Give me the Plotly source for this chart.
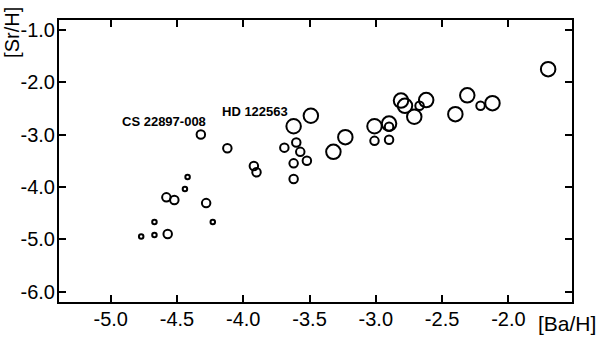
import plotly.graph_objects as go

# [Ba/H], [Sr/H], grouped by symbol size
small_ba = [-4.42, -4.44, -4.23, -4.67, -4.77, -4.67]
small_sr = [-3.81, -4.04, -4.67, -4.67, -4.95, -4.92]

medium_ba = [-4.32, -4.12, -3.92, -3.90, -4.58, -4.52, -4.28, -4.57, -3.69, -3.60,
             -3.57, -3.52, -3.62, -3.62, -3.01, -2.90, -2.90, -2.67, -2.21]
medium_sr = [-3.00, -3.26, -3.60, -3.72, -4.20, -4.25, -4.31, -4.90, -3.25, -3.15,
             -3.33, -3.50, -3.55, -3.85, -3.12, -2.85, -3.10, -2.45, -2.45]

large_ba = [-3.62, -3.49, -3.32, -3.23, -3.01, -2.90, -2.81, -2.78, -2.71, -2.62,
            -2.40, -2.31, -2.12, -1.70]
large_sr = [-2.84, -2.64, -3.33, -3.05, -2.84, -2.79, -2.35, -2.45, -2.66, -2.34,
            -2.61, -2.25, -2.40, -1.75]

star_names = ['CS 22897-008', 'HD 122563']
star_label_x = [-4.60, -3.91]
star_label_y = [-2.75, -2.56]

x_ticks = [-5.0, -4.5, -4.0, -3.5, -3.0, -2.5, -2.0]
y_ticks = [-1.0, -2.0, -3.0, -4.0, -5.0, -6.0]

FONT = 'Liberation Sans, Arial, Helvetica, sans-serif'

fig = go.Figure()
for xs, ys, sz in [(small_ba, small_sr, 4.5), (medium_ba, medium_sr, 8.5), (large_ba, large_sr, 14.5)]:
    fig.add_trace(go.Scatter(
        x=xs, y=ys, mode='markers',
        marker=dict(symbol='circle-open', size=sz, color='black',
                    line=dict(color='black', width=2)),
        hoverinfo='x+y'))

axis_common = dict(showline=True, linecolor='black', linewidth=2, mirror='ticks',
                   ticks='inside', ticklen=7, tickwidth=2, tickcolor='black',
                   showgrid=False, zeroline=False, automargin=False,
                   tickfont=dict(family=FONT, size=20, color='black'))

fig.update_xaxes(range=[-5.39, -1.52], tickvals=x_ticks, ticklabelstandoff=-2,
                 ticktext=['%.1f' % v for v in x_ticks], **axis_common)
fig.update_yaxes(range=[-6.2, -0.81], tickvals=y_ticks, ticklabelstandoff=-2,
                 ticktext=['%.1f' % v for v in y_ticks], **axis_common)

annotations = [dict(x=x, y=y, xref='x', yref='y', text='<b>%s</b>' % t, showarrow=False,
                    font=dict(family=FONT, size=13, color='black'))
               for t, x, y in zip(star_names, star_label_x, star_label_y)]
annotations += [
    dict(x=-0.092, y=0.957, xref='paper', yref='paper', text='[Sr/H]', textangle=-90,
         xanchor='center', yanchor='middle', borderpad=0,
         showarrow=False, font=dict(family=FONT, size=20, color='black')),
    dict(x=1.05, y=-0.0745, xref='paper', yref='paper', text='[Ba/H]',
         xanchor='right', yanchor='middle',
         showarrow=False, font=dict(family=FONT, size=21, color='black')),
]

fig.update_layout(width=600, height=338,
                  margin=dict(l=59, r=28, t=20, b=36, pad=0),
                  paper_bgcolor='white', plot_bgcolor='white',
                  showlegend=False, annotations=annotations)

# drop the default 8px body margin so the figure sits at the page's top-left corner
fig.write_html("out.html", config={'displayModeBar': False},
               post_script="document.body.style.margin='0';")
